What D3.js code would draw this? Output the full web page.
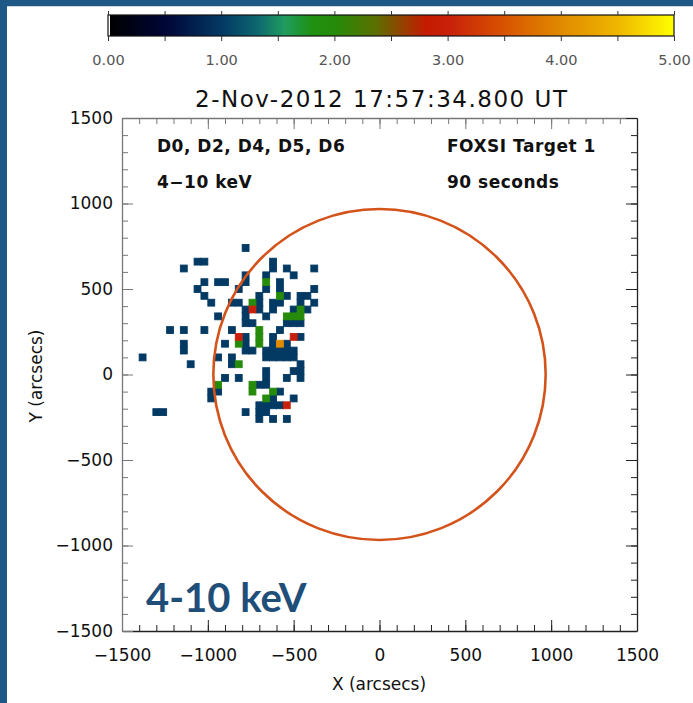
<!DOCTYPE html>
<html>
<head>
<meta charset="utf-8">
<script src="https://cdn.jsdelivr.net/npm/d3@7"></script>
<style>
  body { margin: 0; background: #fff; }
  svg { display: block; }
  text { font-family: "DejaVu Sans", sans-serif; }
</style>
</head>
<body>
<svg id="chart" width="693" height="703"></svg>
<script>
// FOXSI counts map, 40" bins, lower-left corner of each bin (arcsec)
const binSize = 40;
const solarRadius = 968;

const countOne = [
  [-800,720],
  [-1080,640],[-1040,640],[-640,640],
  [-1160,600],[-640,600],[-560,600],[-400,600],
  [-800,560],[-680,560],[-520,560],
  [-1040,520],[-960,520],[-920,520],[-800,520],[-600,520],
  [-1080,480],[-840,480],[-680,480],[-600,480],[-400,480],
  [-1040,440],[-720,440],[-560,440],[-480,440],[-440,440],
  [-1000,400],[-880,400],[-840,400],[-720,400],[-640,400],[-600,400],[-480,400],[-400,400],
  [-800,360],[-720,360],[-640,360],[-520,360],[-440,360],
  [-960,320],[-800,320],[-680,320],
  [-800,280],[-760,280],[-560,280],[-520,280],[-480,280],
  [-1240,240],[-1160,240],[-1040,240],[-880,240],[-600,240],
  [-800,200],[-640,200],[-480,200],
  [-1160,160],[-920,160],[-800,160],[-640,160],[-560,160],
  [-1160,120],[-800,120],[-760,120],[-680,120],[-640,120],[-600,120],[-560,120],[-520,120],
  [-1400,80],[-960,80],[-880,80],[-680,80],[-640,80],[-600,80],[-560,80],[-520,80],
  [-1120,40],[-880,40],[-480,40],
  [-680,0],[-520,0],[-480,0],
  [-920,-40],[-840,-40],[-680,-40],[-560,-40],[-480,-40],
  [-720,-80],[-680,-80],
  [-1000,-120],[-960,-120],[-600,-120],
  [-1000,-160],[-640,-160],[-520,-160],
  [-720,-200],[-680,-200],[-640,-200],[-600,-200],
  [-1320,-240],[-1280,-240],[-800,-240],[-720,-240],[-680,-240],
  [-720,-280],[-640,-280],[-560,-280]
];
const countTwo = [
  [-680,520],[-600,440],[-760,400],[-480,360],
  [-560,320],[-520,320],[-480,320],
  [-720,240],[-720,200],[-840,160],[-720,160],[-840,40],
  [-960,-80],[-760,-80],[-760,-120],[-640,-120],[-680,-160]
];
const countThree = [[-760,360],[-840,200],[-520,200],[-560,-200]];
const countFour = [[-600,160]];

const cbarTicks = [0, 0.5, 1, 1.5, 2, 2.5, 3, 3.5, 4, 4.5, 5];
const axisMajor = [-1500, -1000, -500, 0, 500, 1000, 1500];
const axisMinor = d3.range(-1500, 1501, 100);

// colour table stops [value, colour]
const cmapStops = [
  [0.0, "#000000"], [0.5, "#000638"], [1.0, "#033a64"], [1.3, "#0d6670"],
  [1.55, "#1f9c5e"], [1.8, "#1f9010"], [2.0, "#268a0a"], [2.35, "#5a7000"],
  [2.6, "#964000"], [2.8, "#c41a00"], [3.0, "#c8200a"], [3.5, "#d85400"],
  [4.0, "#e08a00"], [4.5, "#efb600"], [5.0, "#ffff00"]
];

const W = 693, H = 703;
const svg = d3.select("#chart");
svg.append("rect").attr("width", W).attr("height", H).attr("fill", "#fff");
svg.append("rect").attr("x", 0).attr("y", 0).attr("width", 7).attr("height", H).attr("fill", "#1e5886");
svg.append("rect").attr("x", 0).attr("y", 0).attr("width", W).attr("height", 6).attr("fill", "#1e5886");
svg.append("rect").attr("x", 7).attr("y", 6).attr("width", W - 7).attr("height", 1).attr("fill", "#cfd6dd");

const cmap = d3.scaleLinear()
  .domain(cmapStops.map(d => d[0]))
  .range(cmapStops.map(d => d[1]))
  .clamp(true);

// colour bar
const cx = d3.scaleLinear().domain([0, 5]).range([108, 674]);
const grad = svg.append("defs").append("linearGradient").attr("id", "cbar")
  .attr("x1", "0%").attr("x2", "100%").attr("y1", "0%").attr("y2", "0%");
grad.selectAll("stop").data(cmapStops).enter().append("stop")
  .attr("offset", d => (d[0] / 5 * 100) + "%")
  .attr("stop-color", d => d[1]);
svg.append("rect").attr("x", cx(0) + 2).attr("y", 15).attr("width", cx(5) - cx(0) - 2).attr("height", 21)
  .attr("fill", "url(#cbar)");
svg.append("rect").attr("x", cx(0)).attr("y", 15).attr("width", cx(5) - cx(0)).attr("height", 21)
  .attr("fill", "none").attr("stroke", "#111").attr("stroke-width", 1.2);

const cbBottom = svg.append("g").attr("transform", "translate(0,36)")
  .call(d3.axisBottom(cx).tickValues(cbarTicks).tickSize(5).tickPadding(14)
    .tickFormat(d => d % 1 === 0 ? d3.format(".2f")(d) : ""));
const cbTop = svg.append("g").attr("transform", "translate(0,15)")
  .call(d3.axisTop(cx).tickValues(cbarTicks).tickSize(4).tickFormat(""));
[cbBottom, cbTop].forEach(g => {
  g.select(".domain").remove();
  g.selectAll(".tick line").attr("stroke", "#333");
});
cbBottom.selectAll("text").attr("font-family", "DejaVu Sans").attr("font-size", 14.5).attr("fill", "#555");

svg.append("text").attr("x", 381).attr("y", 107).attr("text-anchor", "middle")
  .attr("font-size", 23).attr("textLength", 372).attr("lengthAdjust", "spacing").attr("fill", "#111")
  .text("2-Nov-2012 17:57:34.800 UT");

// map
const x = d3.scaleLinear().domain([-1500, 1500]).range([122, 637]);
const y = d3.scaleLinear().domain([-1500, 1500]).range([631, 118]);

const cells = [
  ...countOne.map(p => [p[0], p[1], 1]),
  ...countTwo.map(p => [p[0], p[1], 2]),
  ...countThree.map(p => [p[0], p[1], 3]),
  ...countFour.map(p => [p[0], p[1], 4])
];
svg.append("g").selectAll("rect").data(cells).enter().append("rect")
  .attr("x", d => x(d[0]))
  .attr("y", d => y(d[1] + binSize))
  .attr("width", d => x(d[0] + binSize) - x(d[0]))
  .attr("height", d => y(d[1]) - y(d[1] + binSize))
  .attr("fill", d => cmap(d[2]))
  .attr("stroke", d => cmap(d[2])).attr("stroke-width", 0.9);

svg.append("ellipse")
  .attr("cx", x(0)).attr("cy", y(0))
  .attr("rx", x(solarRadius) - x(0)).attr("ry", y(0) - y(solarRadius))
  .attr("fill", "none").attr("stroke", "#d3531b").attr("stroke-width", 2.6);

// axes: major and minor ticks drawn inward on all four sides
function frame(axisFn, pos, transform, labelled, col, pad) {
  const gMinor = svg.append("g").attr("transform", transform)
    .call(axisFn(pos).tickValues(axisMinor).tickSize(-6).tickFormat(""));
  gMinor.select(".domain").remove();
  gMinor.selectAll(".tick line").attr("stroke", col);
  const gMajor = svg.append("g").attr("transform", transform)
    .call(axisFn(pos).tickValues(axisMajor).tickSizeInner(-11).tickSizeOuter(0).tickPadding(pad)
      .tickFormat(labelled ? d3.format("d") : ""));
  gMajor.select(".domain").attr("stroke", col).attr("stroke-width", 1.3);
  gMajor.selectAll(".tick line").attr("stroke", col);
  gMajor.selectAll("text").attr("font-family", "DejaVu Sans").attr("font-size", 17).attr("fill", "#111");
}
frame(d3.axisBottom, x, "translate(0,631)", true, "#222", 18);
frame(d3.axisTop, x, "translate(0,118)", false, "#777", 0);
frame(d3.axisLeft, y, "translate(122,0)", true, "#777", 9);
frame(d3.axisRight, y, "translate(637,0)", false, "#222", 0);

svg.append("text").attr("x", 379).attr("y", 690).attr("text-anchor", "middle")
  .attr("font-size", 17).attr("fill", "#111").text("X (arcsecs)");
svg.append("text").attr("transform", "translate(42,376) rotate(-90)").attr("text-anchor", "middle")
  .attr("font-size", 17).attr("fill", "#111").text("Y (arcsecs)");

// annotations
const notes = [
  ["D0, D2, D4, D5, D6", 157, 152], ["4\u221210 keV", 157, 188],
  ["FOXSI Target 1", 447, 152], ["90 seconds", 447, 188]
];
svg.append("g").selectAll("text").data(notes).enter().append("text")
  .attr("x", d => d[1]).attr("y", d => d[2])
  .attr("font-size", 17).attr("font-weight", "bold").attr("fill", "#111")
  .attr("letter-spacing", 0.5)
  .text(d => d[0]);

svg.append("text").attr("x", 146).attr("y", 612)
  .style("font-family", "Lato, 'Open Sans', sans-serif").attr("font-weight", 700)
  .attr("font-size", 40).attr("fill", "#1f4e79").text("4-10 keV");
</script>
</body>
</html>
